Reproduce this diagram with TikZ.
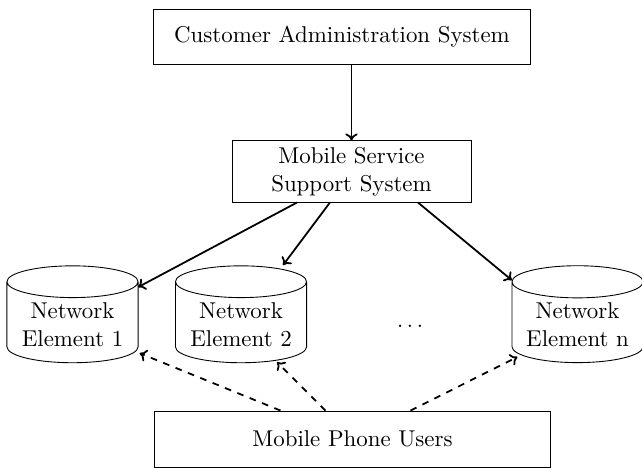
\documentclass[tikz,border=0pt]{standalone}
\usetikzlibrary{shapes.geometric,arrows.meta}
\begin{document}
\begin{tikzpicture}[x=0.45pt,y=-0.45pt,
  >={To[length=3.2pt,width=5.6pt]},
  every node/.style={font=\fontsize{10.3}{12.5}\selectfont},
  boxnode/.style={draw,rectangle,align=center,inner sep=2pt},
  cyl/.style={draw,cylinder,shape border rotate=90,aspect=0.3,align=center,
    minimum width=59pt,minimum height=43.6pt,inner sep=1pt},
  solidarr/.style={->,thick},
  dasharr/.style={->,thick,dashed}]
\useasboundingbox (0,0) rectangle (642,468);
\node[boxnode,minimum width=170pt,minimum height=24.75pt] (cas) at (342,36.5) {Customer Administration System};
\node[boxnode,minimum width=107.5pt,minimum height=27.5pt] (msss) at (351.5,171.5) {Mobile Service\\Support System};
\node[cyl] (ne1) at (72.5,324.5) {Network\\Element 1};
\node[cyl] (ne2) at (241,324.5) {Network\\Element 2};
\node[cyl] (nen) at (577.5,324.5) {Network\\Element n};
\node (dots) at (410,326) {$\dots$};
\node[boxnode,minimum width=177.8pt,minimum height=25.2pt] (mpu) at (352.5,439) {Mobile Phone Users};
\draw[solidarr] (cas.south -| msss.north) -- (msss.north);
\draw[solidarr] ([xshift=-24.5pt]msss.south) -- ([xshift=29.5pt,yshift=16.8pt]ne1.center);
\draw[solidarr] ([xshift=-9.7pt]msss.south) -- ([xshift=18.9pt,yshift=26.7pt]ne2.center);
\draw[solidarr] ([xshift=29.9pt]msss.south) -- ([xshift=-29.5pt,yshift=19.9pt]nen.center);
\draw[dasharr] ([xshift=-32.4pt]mpu.north) -- ([xshift=30.2pt,yshift=-12.9pt]ne1.center);
\draw[dasharr] ([xshift=-12.15pt]mpu.north) -- ([xshift=16.2pt,yshift=-16.9pt]ne2.center);
\draw[dasharr] ([xshift=26.1pt]mpu.north) -- ([xshift=-27pt,yshift=-14.6pt]nen.center);
\end{tikzpicture}
\end{document}
